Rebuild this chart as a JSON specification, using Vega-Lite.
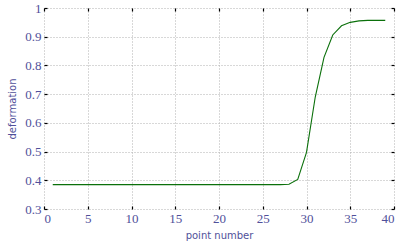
{
  "$schema": "https://vega.github.io/schema/vega-lite/v6.json",
  "width": 350,
  "height": 201,
  "autosize": "none",
  "padding": {"left": 44, "top": 8, "right": 9, "bottom": 32},
  "background": "white",
  "config": {
    "view": {"stroke": null},
    "axis": {
      "labelFont": "Liberation Serif",
      "labelFontSize": 13,
      "labelColor": "#50509a",
      "titleFont": "DejaVu Sans",
      "titleFontSize": 10,
      "titleFontWeight": "normal",
      "titleColor": "#50509a",
      "gridColor": "#b0b0b0",
      "gridDash": [1, 2],
      "gridOpacity": 1,
      "gridWidth": 1,
      "domain": false,
      "tickColor": "black",
      "tickSize": -3,
      "tickWidth": 1.2
    }
  },
  "data": {
    "values": [
      {"x": 1, "y": 0.385}, {"x": 2, "y": 0.385}, {"x": 3, "y": 0.385}, {"x": 4, "y": 0.385},
      {"x": 5, "y": 0.385}, {"x": 6, "y": 0.385}, {"x": 7, "y": 0.385}, {"x": 8, "y": 0.385},
      {"x": 9, "y": 0.385}, {"x": 10, "y": 0.385}, {"x": 11, "y": 0.385}, {"x": 12, "y": 0.385},
      {"x": 13, "y": 0.385}, {"x": 14, "y": 0.385}, {"x": 15, "y": 0.385}, {"x": 16, "y": 0.385},
      {"x": 17, "y": 0.385}, {"x": 18, "y": 0.385}, {"x": 19, "y": 0.385}, {"x": 20, "y": 0.385},
      {"x": 21, "y": 0.385}, {"x": 22, "y": 0.385}, {"x": 23, "y": 0.385}, {"x": 24, "y": 0.385},
      {"x": 25, "y": 0.385}, {"x": 26, "y": 0.385}, {"x": 27, "y": 0.385}, {"x": 28, "y": 0.386},
      {"x": 29, "y": 0.403}, {"x": 30, "y": 0.497}, {"x": 31, "y": 0.69}, {"x": 32, "y": 0.828},
      {"x": 33, "y": 0.906}, {"x": 34, "y": 0.938}, {"x": 35, "y": 0.95}, {"x": 36, "y": 0.955},
      {"x": 37, "y": 0.957}, {"x": 38, "y": 0.957}, {"x": 39, "y": 0.957}
    ]
  },
  "layer": [
    {
      "mark": {"type": "line", "color": "#0b700b", "strokeWidth": 1.1},
      "encoding": {
        "x": {"field": "x", "type": "quantitative", "scale": {"domain": [0, 40], "nice": false},
              "axis": {"values": [0, 5, 10, 15, 20, 25, 30, 35, 40], "title": "point number", "labelPadding": 6, "titlePadding": 5}},
        "y": {"field": "y", "type": "quantitative", "scale": {"domain": [0.3, 1], "nice": false, "zero": false},
              "axis": {"values": [0.3, 0.4, 0.5, 0.6, 0.7, 0.8, 0.9, 1], "format": "~g", "title": "deformation", "labelPadding": 6, "titlePadding": 7}}
      }
    },
    {
      "mark": {"type": "line", "opacity": 0},
      "encoding": {
        "x": {"field": "x", "type": "quantitative",
              "axis": {"orient": "top", "values": [0, 5, 10, 15, 20, 25, 30, 35, 40], "labels": false, "grid": false, "title": null}},
        "y": {"field": "y", "type": "quantitative",
              "axis": {"orient": "right", "values": [0.3, 0.4, 0.5, 0.6, 0.7, 0.8, 0.9, 1], "labels": false, "grid": false, "title": null}}
      }
    }
  ],
  "resolve": {"axis": {"x": "independent", "y": "independent"}}
}
